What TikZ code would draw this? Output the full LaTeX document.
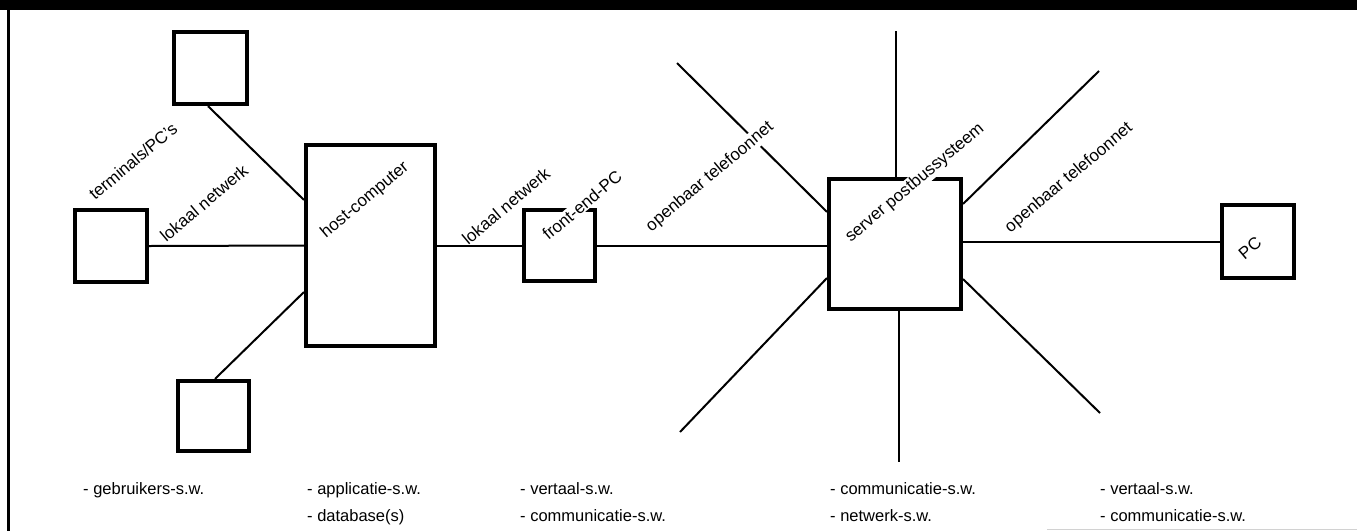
\documentclass[tikz,border=0pt]{standalone}
\usepackage{fontspec}
\setmainfont{Liberation Sans}
\begin{document}
\begin{tikzpicture}[x=1pt,y=-1pt,
  box/.style={draw=black,line width=4.2pt,fill=none,inner sep=0pt},
  wire/.style={draw=black,line width=2pt},
  lab/.style={rotate=40,font=\fontsize{17}{20}\selectfont,inner sep=1pt},
  labw/.style={lab,fill=white},
  sw/.style={anchor=base west,font=\fontsize{16.5}{20}\selectfont,inner sep=0pt}]
\useasboundingbox (0,0) rectangle (1357,531);
% frame
\fill[black] (0,0) rectangle (1357,10);
\draw[line width=3pt] (8,0) -- (8,531);
\draw[gray!35,line width=1pt] (1047,529) -- (1357,529);
% boxes
\node[box,minimum width=73pt,minimum height=72pt] (tt) at (210.5,68) {};
\node[box,minimum width=72pt,minimum height=72pt] (lt) at (111,246) {};
\node[box,minimum width=71pt,minimum height=70pt] (bt) at (213.5,416) {};
\node[box,minimum width=129pt,minimum height=201pt] (host) at (370.5,245.5) {};
\node[box,minimum width=71pt,minimum height=71pt] (fe) at (559.5,245.5) {};
\node[box,minimum width=132pt,minimum height=130pt] (srv) at (895,244) {};
\node[box,minimum width=72pt,minimum height=73pt] (pc) at (1258,241.5) {};
% free ends of spokes
\coordinate (ul) at (677,63);
\coordinate (up) at (896,31);
\coordinate (ur) at (1099,71);
\coordinate (lr) at (1100,413);
\coordinate (dn) at (899,462);
\coordinate (ll) at (680,432);
% connectors
\draw[wire] ([xshift=-2.5pt]tt.south) -- ([yshift=-57pt]host.north west);
\draw[wire] (lt.east) -- (host.west);
\draw[wire] ([xshift=1.5pt]bt.north) -- ([yshift=56pt]host.south west);
\draw[wire] (host.east) -- (fe.west);
\draw[wire] (fe.east) -- (srv.west |- fe.east);
\draw[wire] ([yshift=-35pt]srv.north west) -- (ul);
\draw[wire] (up |- srv.north) -- (up);
\draw[wire] ([yshift=-27pt]srv.north east) -- (ur);
\draw[wire] (srv.east |- pc.west) -- (pc.west);
\draw[wire] ([yshift=32pt]srv.south east) -- (lr);
\draw[wire] (dn |- srv.south) -- (dn);
\draw[wire] ([yshift=33pt]srv.south west) -- (ll);
% rotated labels
\node[lab] (l1) at (133,161) {terminals/PC's};
\node[lab] (l2) at (204,203) {lokaal netwerk};
\node[lab] (l3) at (365,200) {host-computer};
\node[lab] (l4) at (506,206) {lokaal netwerk};
\node[labw] (l5) at (582,205) {front-end-PC};
\node[labw] (l6) at (710,177) {openbaar telefoonnet};
\node[labw] (l7) at (915,183) {server postbussysteem};
\node[lab] (l8) at (1069,178) {openbaar telefoonnet};
\node[lab] (l9) at (1250,248) {PC};
% software lists
\node[sw] (s1) at (83,494) {- gebruikers-s.w.};
\node[sw] (s2) at (307,494) {- applicatie-s.w.};
\node[sw] (s3) at (307,521) {- database(s)};
\node[sw] (s4) at (520,494) {- vertaal-s.w.};
\node[sw] (s5) at (520,521) {- communicatie-s.w.};
\node[sw] (s6) at (830,494) {- communicatie-s.w.};
\node[sw] (s7) at (830,521) {- netwerk-s.w.};
\node[sw] (s8) at (1100,494) {- vertaal-s.w.};
\node[sw] (s9) at (1100,521) {- communicatie-s.w.};
\end{tikzpicture}
\end{document}
